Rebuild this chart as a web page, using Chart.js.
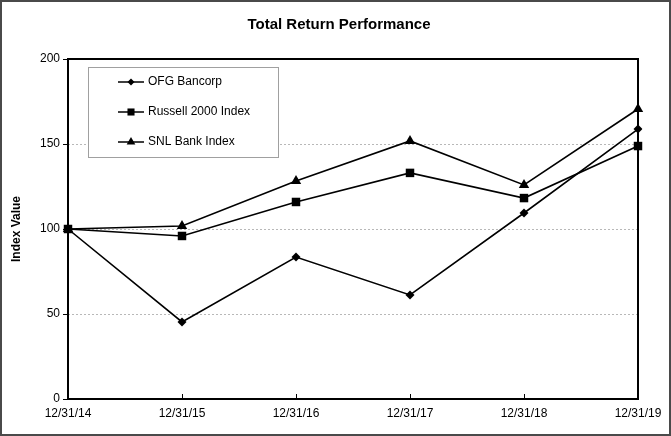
<!DOCTYPE html>
<html>
<head>
<meta charset="utf-8">
<script src="https://cdn.jsdelivr.net/npm/chart.js@4/dist/chart.umd.min.js"></script>
<style>
  body { margin: 0; background: #fff; }
  #wrap { width: 671px; height: 436px; }
</style>
</head>
<body>
<div id="wrap"><canvas id="perf" width="671" height="436"></canvas></div>
<script>
// Data

const periods = ["12/31/14", "12/31/15", "12/31/16", "12/31/17", "12/31/18", "12/31/19"];
const ofgBancorp = [100, 45.3, 83.5, 61.2, 109.4, 158.8];
const russell2000 = [100, 95.9, 115.9, 133.0, 118.2, 148.8];
const snlBank = [100, 101.8, 128.2, 151.8, 125.9, 170.6];
const yTicks = [0, 50, 100, 150, 200];

const FONT = "'Liberation Sans', Arial, sans-serif";

// Frame, title, axis title, inside x ticks and legend box
const decor = {
  id: "decor",
  beforeDatasetsDraw(chart) {
    const ctx = chart.ctx;
    const a = chart.chartArea;
    const x = chart.scales.x;
    ctx.save();
    ctx.strokeStyle = "#000";
    ctx.lineWidth = 2;
    ctx.strokeRect(a.left, a.top, a.right - a.left, a.bottom - a.top);
    ctx.lineWidth = 1;
    periods.forEach((p, i) => {
      const px = Math.round(x.getPixelForValue(i)) + 0.5;
      ctx.beginPath();
      ctx.moveTo(px, a.bottom);
      ctx.lineTo(px, a.bottom - 5);
      ctx.stroke();
    });
    ctx.restore();
  },
  afterDraw(chart) {
    const ctx = chart.ctx;
    const a = chart.chartArea;
    ctx.save();
    // outer border
    ctx.strokeStyle = "#4a4a4a";
    ctx.lineWidth = 2;
    ctx.strokeRect(1, 1, chart.width - 2, chart.height - 2);

    // title
    ctx.fillStyle = "#000";
    ctx.font = "bold 15px " + FONT;
    ctx.textAlign = "center";
    ctx.textBaseline = "middle";
    ctx.fillText("Total Return Performance", 339, 25);

    // y axis title
    ctx.save();
    ctx.translate(17, (a.top + a.bottom) / 2);
    ctx.rotate(-Math.PI / 2);
    ctx.font = "bold 12px " + FONT;
    ctx.fillText("Index Value", 0, 0);
    ctx.restore();

    // legend
    const lx = a.left + 20, ly = a.top + 8, lw = 190, lh = 90;
    ctx.fillStyle = "#fff";
    ctx.fillRect(lx, ly, lw, lh);
    ctx.strokeStyle = "#a0a0a0";
    ctx.lineWidth = 1;
    ctx.strokeRect(lx + 0.5, ly + 0.5, lw, lh);
    chart.data.datasets.forEach((ds, i) => {
      const cy = ly + 15 + i * 30;
      ctx.strokeStyle = "#000";
      ctx.lineWidth = 1.5;
      ctx.beginPath();
      ctx.moveTo(lx + 30, cy);
      ctx.lineTo(lx + 56, cy);
      ctx.stroke();
      ctx.fillStyle = "#000";
      Chart.helpers.drawPoint(ctx, { pointStyle: ds.pointStyle, radius: ds.pointRadius - 1, rotation: 0, borderWidth: 0 }, lx + 43, cy);
      ctx.font = "12px " + FONT;
      ctx.textAlign = "left";
      ctx.textBaseline = "middle";
      ctx.fillText(ds.label, lx + 60, cy);
    });
    ctx.restore();
  }
};

function series(label, data, style, radius) {
  return {
    label: label,
    data: data,
    borderColor: "#000",
    backgroundColor: "#000",
    borderWidth: 1.6,
    pointStyle: style,
    pointRadius: radius,
    pointHoverRadius: radius,
    pointBorderWidth: 0,
    tension: 0
  };
}

new Chart(document.getElementById("perf"), {
  type: "line",
  data: {
    labels: periods,
    datasets: [
      series("OFG Bancorp", ofgBancorp, "rectRot", 4.5),
      series("Russell 2000 Index", russell2000, "rect", 6),
      series("SNL Bank Index", snlBank, "triangle", 6)
    ]
  },
  options: {
    responsive: false,
    animation: false,
    layout: { padding: { top: 59, right: 33, left: 0, bottom: 0 } },
    plugins: {
      legend: { display: false },
      title: { display: false },
      tooltip: { enabled: false }
    },
    scales: {
      x: {
        type: "category",
        offset: false,
        grid: { display: false, drawTicks: false },
        border: { display: false },
        ticks: { color: "#000", font: { family: FONT, size: 12 }, padding: 7, maxRotation: 0, autoSkip: false },
        afterFit(scale) { scale.height = 37; }
      },
      y: {
        min: 0,
        max: 200,
        afterBuildTicks(scale) { scale.ticks = yTicks.map(v => ({ value: v })); },
        grid: {
          color: ctx => (ctx.tick && (ctx.tick.value === 0 || ctx.tick.value === 200)) ? "rgba(0,0,0,0)" : "#b8b8b8",
          tickColor: "#000",
          tickLength: 5,
          tickBorderDash: [],
          lineWidth: 1
        },
        border: { display: false, dash: [2, 2] },
        ticks: { color: "#000", font: { family: FONT, size: 12 }, padding: 3 },
        afterFit(scale) { scale.width = 68; }
      }
    }
  },
  plugins: [decor]
});
</script>
</body>
</html>
